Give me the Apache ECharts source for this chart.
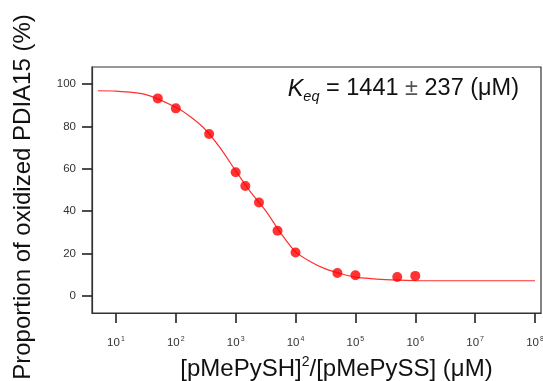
<!DOCTYPE html>
<html>
<head>
<meta charset="utf-8">
<script src="https://cdn.jsdelivr.net/npm/echarts@6/dist/echarts.min.js"></script>
<style>
  html, body { margin: 0; padding: 0; background: #fff; }
  #chart { width: 543px; height: 381px; }
</style>
</head>
<body>
<div id="chart"></div>
<script>
// measured points: [pMePySH]^2/[pMePySS] in uM, and % oxidized PDIA15
const concentrations = [50, 100, 360, 1000, 1450, 2450, 5000, 10000, 50000, 100000, 500000, 1000000];
const oxidized = [93.2, 88.5, 76.4, 58.4, 51.9, 44.1, 30.8, 20.5, 10.9, 9.8, 9.0, 9.5];

// fitted curve (x given as log10 of the concentration)
const curveLogX = [0.7, 1.0, 1.5, 2.0, 2.25, 2.5, 2.75, 3.0, 3.25, 3.5, 3.75, 4.0, 4.25, 4.5, 4.75, 5.0, 5.5, 6.0, 7.0, 8.0];
const curveY = [96.8, 96.6, 95.0, 89.0, 84.4, 78.3, 69.5, 59.0, 49.0, 40.3, 29.8, 20.8, 16.2, 12.8, 10.6, 8.9, 7.7, 7.3, 7.2, 7.2];

// tick labels
const xTickExponents = [1, 2, 3, 4, 5, 6, 7, 8];
const yTicks = [0, 20, 40, 60, 80, 100];

const font = 'Liberation Sans, Arial, Helvetica, sans-serif';
const ink = '#333';
const tickInk = '#222';

const chart = echarts.init(document.getElementById('chart'));

const points = concentrations.map((c, i) => [Math.log10(c), oxidized[i]]);
const curve = curveLogX.map((x, i) => [x, curveY[i]]);

const option = {
  animation: false,
  textStyle: { fontFamily: font },
  grid: {
    left: 92, right: 2, top: 67, bottom: 68,
    show: true, borderColor: ink, borderWidth: 1.2,
    containLabel: false, outerBoundsMode: 'none'
  },
  xAxis: {
    type: 'value',
    min: 0.6,
    max: 8.1,
    axisLine: { show: true, onZero: false, lineStyle: { color: ink, width: 1.2 } },
    axisTick: { show: true, length: 10, lineStyle: { color: tickInk, width: 1.6 }, customValues: xTickExponents },
    axisLabel: {
      margin: 23,
      customValues: xTickExponents,
      formatter: v => '{b|10}{s|' + v + '}',
      rich: {
        b: { fontSize: 11.5, lineHeight: 14, color: ink, fontFamily: font },
        s: { fontSize: 7, lineHeight: 7, verticalAlign: 'top', color: ink, fontFamily: font, padding: [0, 0, 0, 1] }
      }
    },
    splitLine: { show: false },
    name: '{m|[pMePySH]}{s|2}{m|/[pMePySS] (μM)}',
    nameLocation: 'middle',
    nameGap: 42,
    nameTextStyle: {
      padding: [0, 0, 0, 40],
      rich: {
        m: { fontSize: 24, lineHeight: 28, color: '#111', fontFamily: font },
        s: { fontSize: 14, lineHeight: 17, verticalAlign: 'top', color: '#111', fontFamily: font }
      }
    }
  },
  yAxis: {
    type: 'value',
    min: -8,
    max: 108,
    axisLine: { show: true, onZero: false, lineStyle: { color: ink, width: 1.2 } },
    axisTick: { show: true, length: 10, lineStyle: { color: tickInk, width: 1.6 }, customValues: yTicks },
    axisLabel: { margin: 16, customValues: yTicks, fontSize: 11.5, color: ink, fontFamily: font },
    splitLine: { show: false },
    name: 'Proportion of oxidized PDIA15 (%)',
    nameLocation: 'middle',
    nameGap: 57,
    nameTextStyle: { fontSize: 24, color: '#111', fontFamily: font, padding: [0, 14, 0, 0] }
  },
  graphic: [{
    type: 'text',
    right: 24,
    top: 77,
    style: {
      text: '{k|K}{e|eq}{t| = 1441 }{p|±}{t| 237 (μM)}',
      rich: {
        k: { fontSize: 23.5, fontStyle: 'italic', lineHeight: 30, fill: '#111', fontFamily: font },
        e: { fontSize: 14.5, fontStyle: 'italic', lineHeight: 14, verticalAlign: 'bottom', fill: '#111', fontFamily: font },
        t: { fontSize: 23.5, lineHeight: 30, fill: '#111', fontFamily: font },
        p: { fontSize: 23.5, lineHeight: 30, fill: '#555', fontFamily: font }
      }
    }
  }],
  series: [
    {
      name: 'fit',
      type: 'line',
      data: curve,
      smooth: 0.3,
      showSymbol: false,
      lineStyle: { color: '#ff3030', width: 1.2 },
      z: 2
    },
    {
      name: 'data',
      type: 'scatter',
      data: points,
      symbol: 'circle',
      symbolSize: 10,
      itemStyle: { color: '#ff0000' },
      z: 3
    }
  ]
};

chart.setOption(option);
</script>
</body>
</html>
